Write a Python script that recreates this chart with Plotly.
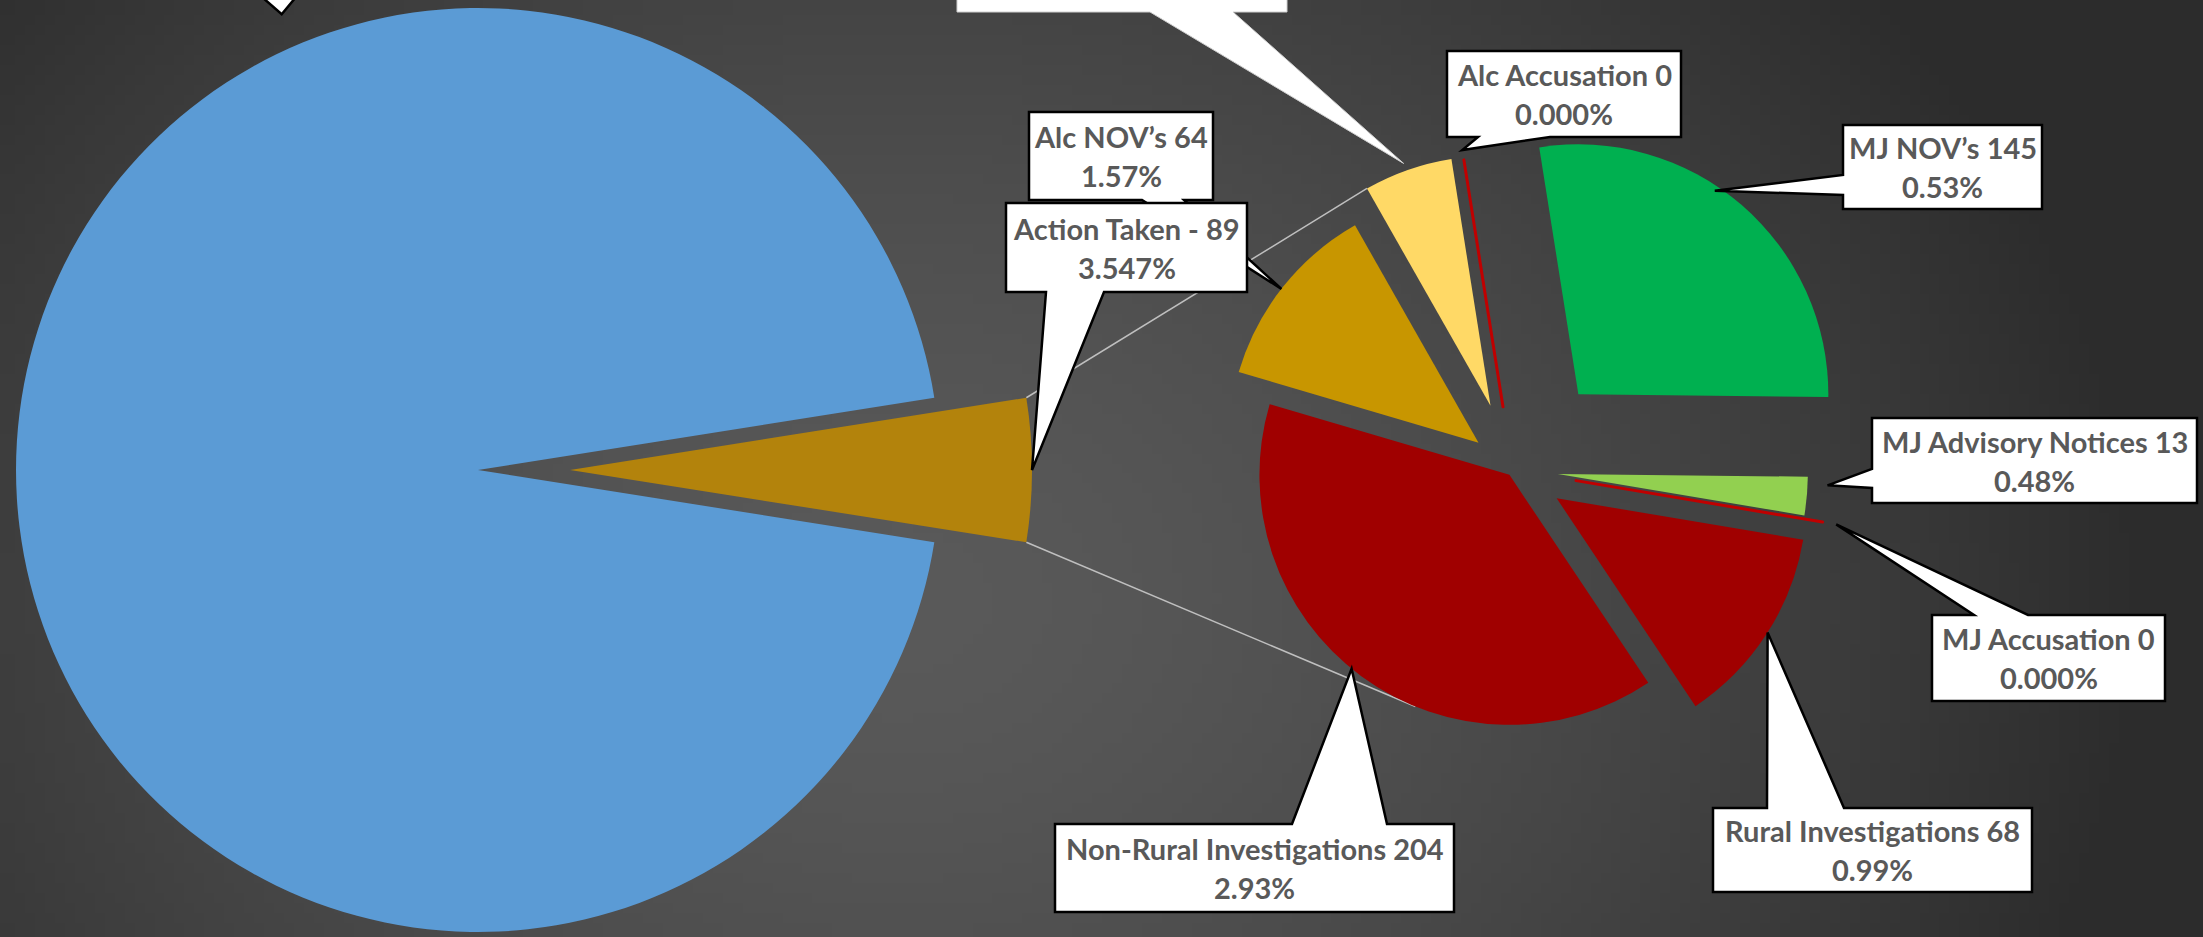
import math, zlib, struct, base64
import numpy as np
import plotly.graph_objects as go

W, H = 2203, 937

# ---------------- data ----------------
main_labels = ["Other", "Action Taken"]
other_value = 9960                      # blue slice (its label is cut off at the top)
second_labels = ["MJ NOV’s", "MJ Advisory Notices", "MJ Accusation",
                 "Rural Investigations", "Non-Rural Investigations",
                 "Alc NOV’s", "Alc Advisory Notices", "Alc Accusation"]
second_values = [145, 13, 0, 68, 204, 64, 30, 0]
second_pct = ["0.53%", "0.48%", "0.000%", "0.99%", "2.93%", "1.57%", "", "0.000%"]
action_taken_count = 89
action_taken_pct = "3.547%"

main_values = [other_value, sum(second_values)]   # "Action Taken" = breakdown total

# ---------------- styles ----------------
main_colors = ["#5B9BD5", "#B3830C"]
second_colors = ["#00B050", "#92D050", "#C00000", "#A00000", "#A00000",
                 "#C89600", "#FFD966", "#C00000"]
main_pull_px = [0, 92]
second_pull_px = [100, 45, 64, 52, 6, 44, 68, 64]
M_C, R1 = (478, 470), 462
S_C, R2 = (1513, 470), 250
second_rotation = -9
text_color = "#595959"
FONT = "Lato"
FONT_SIZE = 29

fig = go.Figure()


def pie_angles(values, rotation):
    tot = float(sum(values))
    out, a = [], rotation
    for v in values:
        span = v * 360.0 / tot
        out.append((a, a + span))
        a += span
    return out


def offset(center, ang, dist):
    r = math.radians(ang)
    return (center[0] + dist * math.sin(r), center[1] - dist * math.cos(r))


def domain_for(cx, cy, r):
    return dict(x=[(cx - r) / W, (cx + r) / W], y=[1 - (cy + r) / H, 1 - (cy - r) / H])


def add_slices(labels, values, colors, pulls, center, r, rotation):
    spans = pie_angles(values, rotation)
    centers = []
    n = len(values)
    for i, (a0, a1) in enumerate(spans):
        c = offset(center, (a0 + a1) / 2, pulls[i])
        centers.append(c)
        cols = ["rgba(0,0,0,0)"] * n
        lw = [0] * n
        lc = ["rgba(0,0,0,0)"] * n
        if values[i] > 0:
            cols[i] = colors[i]
        else:
            lw[i] = 3
            lc[i] = colors[i]
        fig.add_trace(go.Pie(
            labels=labels, values=values, sort=False, direction="clockwise",
            rotation=rotation, domain=domain_for(c[0], c[1], r),
            marker=dict(colors=cols, line=dict(color=lc, width=lw)),
            textinfo="none", showlegend=False, hoverinfo="label+value",
            name=labels[i]))
    return spans, centers


main_gold_span = 360.0 * main_values[1] / sum(main_values)
main_rotation = 90 + main_gold_span / 2
main_spans, main_centers = add_slices(main_labels, main_values, main_colors,
                                      main_pull_px, M_C, R1, main_rotation)
sec_spans, sec_centers = add_slices(second_labels, second_values, second_colors,
                                    second_pull_px, S_C, R2, second_rotation)

# ---------------- series (connector) lines ----------------
P1 = offset(main_centers[1], main_spans[1][0], R1)
Q1 = offset(sec_centers[6], sec_spans[6][0], R2)
P2 = offset(main_centers[1], main_spans[1][1], R1)
dx, dy = P2[0] - S_C[0], P2[1] - S_C[1]
phi = math.degrees(math.atan2(dx, -dy)) % 360
dd = math.hypot(dx, dy)
tang = phi - math.degrees(math.acos(R2 / dd))
Q2 = offset(sec_centers[4], tang, R2)
for P, Q in [(P1, Q1), (P2, Q2)]:
    fig.add_trace(go.Scatter(x=[P[0], Q[0]], y=[P[1], Q[1]], mode="lines",
                             line=dict(color="#BFBFBF", width=1.5),
                             hoverinfo="skip", showlegend=False))


# ---------------- callouts ----------------
def tip(spec):
    which, i, t, rf = spec
    spans, centers, r = (main_spans, main_centers, R1) if which == "m" else (sec_spans, sec_centers, R2)
    a0, a1 = spans[i]
    return offset(centers[i], a0 + t * (a1 - a0), rf * r)


def lab(i):
    return [f"{second_labels[i]} {second_values[i]}", second_pct[i]]


callouts = [
    dict(box=(60, -110, 470, -3), side="bottom", base=(262, 296), tip=("m", 0, 0.695, 1.074), lines=None, border=True),
    dict(box=(957, -80, 1287, 12), side="bottom", base=(1150, 1233), tip=("s", 6, 0.48, 1.03), lines=None, border=False),
    dict(box=(1447, 51, 1681, 137), side="bottom", base=(1478, 1550), tip=("s", 7, 0, 1.04), lines=lab(7), border=True),
    dict(box=(1843, 125, 2042, 209), side="left", base=(175, 195), tip=("s", 0, 0.43, 0.98), lines=lab(0), border=True),
    dict(box=(1872, 418, 2197, 503), side="left", base=(469, 488), tip=("s", 1, 0.2, 1.08), lines=lab(1), border=True),
    dict(box=(1932, 615, 2165, 701), side="top", base=(1974, 2028), tip=("s", 2, 0, 1.055), lines=lab(2), border=True),
    dict(box=(1713, 808, 2032, 892), side="top", base=(1767, 1844), tip=("s", 3, 0.49, 1.0), lines=lab(3), border=True),
    dict(box=(1055, 824, 1454, 912), side="top", base=(1292, 1387), tip=("s", 4, 0.52, 1.0), lines=lab(4), border=True),
    dict(box=(1029, 112, 1213, 200), side="bottom", base=(1142, 1184), tip=("s", 5, 0.49, 1.0), lines=lab(5), border=True),
    dict(box=(1006, 203, 1247, 292), side="bottom", base=(1046, 1104), tip=("m", 1, 0.5, 1.0),
         lines=[f"Action Taken - {action_taken_count}", action_taken_pct], border=True),
]


def callout_path(box, side, base, tp):
    x0, y0, x1, y1 = box
    b0, b1 = base
    tx, ty = tp
    if side == "top":
        pts = [(x0, y0), (b0, y0), (tx, ty), (b1, y0), (x1, y0), (x1, y1), (x0, y1)]
    elif side == "right":
        pts = [(x0, y0), (x1, y0), (x1, b0), (tx, ty), (x1, b1), (x1, y1), (x0, y1)]
    elif side == "bottom":
        pts = [(x0, y0), (x1, y0), (x1, y1), (b1, y1), (tx, ty), (b0, y1), (x0, y1)]
    else:
        pts = [(x0, y0), (x1, y0), (x1, y1), (x0, y1), (x0, b1), (tx, ty), (x0, b0)]
    return "M" + " L".join(f"{x:.1f},{y:.1f}" for x, y in pts) + " Z"


shapes, annos = [], []
for c in callouts:
    tp = tip(c["tip"])
    shapes.append(dict(type="path", xref="x", yref="y", layer="above",
                       path=callout_path(c["box"], c["side"], c["base"], tp),
                       fillcolor="white",
                       line=dict(color="black" if c["border"] else "#D0D0D0",
                                 width=2.5 if c["border"] else 1)))
    if c["lines"]:
        x0, y0, x1, y1 = c["box"]
        cx, cy = (x0 + x1) / 2, (y0 + y1) / 2
        for k, txt in enumerate(c["lines"]):
            annos.append(dict(x=cx, y=cy + (k - 0.5) * 39, xref="x", yref="y",
                              text=f"<b>{txt}</b>", showarrow=False,
                              xanchor="center", yanchor="middle",
                              font=dict(family=FONT, size=FONT_SIZE, color=text_color)))

# ---------------- background gradient ----------------
gw, gh = 221, 94
xs = (np.arange(gw) + 0.5) * W / gw
ys = (np.arange(gh) + 0.5) * H / gh
X, Y = np.meshgrid(xs, ys)
d = np.sqrt(((X - 900) / 1250) ** 2 + ((Y - 600) / 1000) ** 2)
v = 90 - 46 * np.clip(d, 0, 1.0) ** 1.5
arr = np.stack([v, v, v], -1).clip(0, 255).astype(np.uint8)


def png_bytes(a):
    h, w, _ = a.shape
    raw = b"".join(b"\x00" + a[yy].tobytes() for yy in range(h))

    def chunk(t, dta):
        return struct.pack(">I", len(dta)) + t + dta + struct.pack(">I", zlib.crc32(t + dta) & 0xffffffff)
    return (b"\x89PNG\r\n\x1a\n" + chunk(b"IHDR", struct.pack(">IIBBBBB", w, h, 8, 2, 0, 0, 0))
            + chunk(b"IDAT", zlib.compress(raw, 9)) + chunk(b"IEND", b""))


bg_src = "data:image/png;base64," + base64.b64encode(png_bytes(arr)).decode()

fig.update_layout(
    width=W, height=H, autosize=False,
    margin=dict(l=0, r=0, t=0, b=0),
    paper_bgcolor="#444444", plot_bgcolor="rgba(0,0,0,0)",
    xaxis=dict(range=[0, W], visible=False, fixedrange=True),
    yaxis=dict(range=[H, 0], visible=False, fixedrange=True),
    showlegend=False,
    shapes=shapes, annotations=annos,
    images=[dict(source=bg_src, xref="paper", yref="paper", x=0, y=1, sizex=1, sizey=1,
                 sizing="stretch", layer="below", xanchor="left", yanchor="top")],
)

fig.write_html("out.html", config={"displayModeBar": False},
               post_script="document.body.style.margin='0px';document.body.style.overflow='hidden';")
